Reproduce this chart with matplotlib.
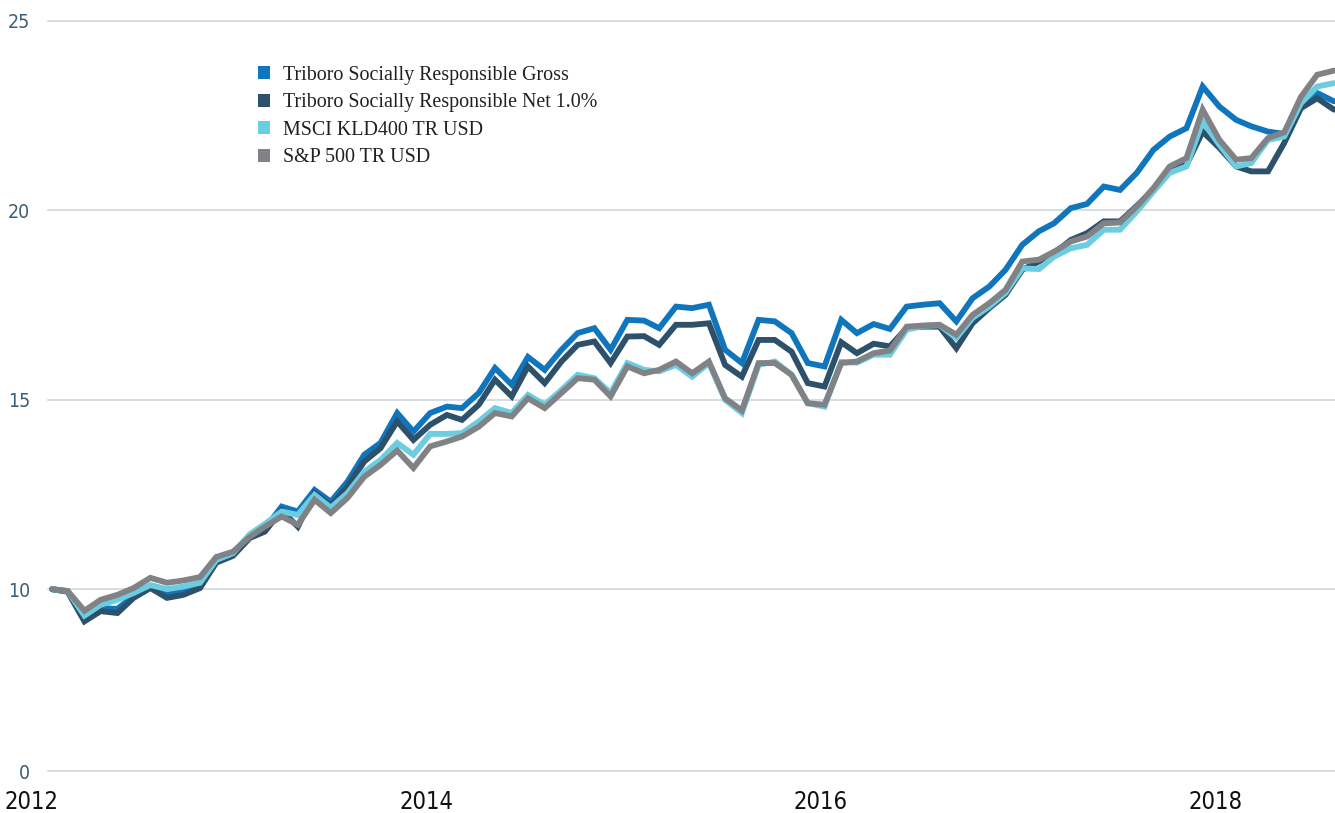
import numpy as np
import pandas as pd
import matplotlib
matplotlib.use("Agg")
import matplotlib.pyplot as plt
import matplotlib.dates as mdates
from matplotlib.patches import Patch

# monthly growth of 10 (first point Feb 2012, last Aug 2018)
dates = pd.date_range("2012-02-01", periods=79, freq="MS") + pd.Timedelta(days=7)

gross = [10.0, 9.95, 9.22, 9.5, 9.48, 9.82, 10.08, 9.88, 9.95, 10.1,
         10.75, 10.92, 11.4, 11.6, 12.18, 12.05, 12.62, 12.31, 12.84, 13.55,
         13.86, 14.65, 14.16, 14.65, 14.82, 14.78, 15.18, 15.84, 15.4, 16.13,
         15.79, 16.32, 16.76, 16.89, 16.32, 17.11, 17.09, 16.89, 17.46, 17.42,
         17.51, 16.32, 15.97, 17.11, 17.07, 16.76, 15.97, 15.88, 17.11, 16.76,
         17.0, 16.87, 17.46, 17.51, 17.55, 17.07, 17.68, 17.99, 18.43, 19.09,
         19.45, 19.66, 20.06, 20.17, 20.63, 20.54, 20.99, 21.6, 21.95, 22.17,
         23.27, 22.74, 22.39, 22.22, 22.08, 22.02, 22.83, 23.1, 22.88]

net = [10.0, 9.93, 9.15, 9.42, 9.37, 9.77, 10.03, 9.77, 9.85, 10.03,
       10.7, 10.88, 11.35, 11.52, 12.08, 11.65, 12.54, 12.2, 12.71, 13.37,
       13.72, 14.43, 13.94, 14.34, 14.6, 14.47, 14.87, 15.53, 15.09, 15.88,
       15.44, 16.01, 16.45, 16.54, 15.97, 16.67, 16.68, 16.45, 16.98, 16.98,
       17.02, 15.92, 15.61, 16.58, 16.58, 16.27, 15.44, 15.35, 16.52, 16.23,
       16.48, 16.41, 16.89, 16.93, 16.93, 16.36, 17.02, 17.42, 17.77, 18.43,
       18.65, 18.87, 19.22, 19.4, 19.71, 19.71, 20.12, 20.55, 21.12, 21.2,
       22.08, 21.65, 21.16, 21.03, 21.03, 21.78, 22.7, 22.96, 22.66]

msci = [10.0, 9.95, 9.3, 9.59, 9.72, 9.9, 10.11, 10.0, 10.07, 10.17,
        10.77, 10.95, 11.45, 11.72, 12.05, 11.96, 12.49, 12.15, 12.54, 13.1,
        13.41, 13.86, 13.55, 14.1, 14.1, 14.12, 14.43, 14.78, 14.65, 15.13,
        14.87, 15.26, 15.66, 15.57, 15.18, 15.97, 15.79, 15.75, 15.92, 15.61,
        15.97, 15.0, 14.65, 15.92, 16.01, 15.66, 14.91, 14.82, 16.0, 15.98,
        16.19, 16.19, 16.85, 16.95, 16.97, 16.63, 17.16, 17.46, 17.82, 18.47,
        18.45, 18.78, 19.0, 19.09, 19.49, 19.49, 19.97, 20.5, 20.99, 21.16,
        22.35, 21.73, 21.16, 21.25, 21.86, 21.95, 22.83, 23.27, 23.36]

sp500 = [10.0, 9.95, 9.43, 9.72, 9.85, 10.03, 10.3, 10.17, 10.23, 10.32,
         10.85, 10.99, 11.38, 11.65, 11.92, 11.7, 12.36, 12.01, 12.41, 12.97,
         13.28, 13.66, 13.2, 13.77, 13.9, 14.03, 14.29, 14.65, 14.56, 15.04,
         14.78, 15.18, 15.57, 15.53, 15.09, 15.88, 15.7, 15.79, 16.01, 15.7,
         16.01, 15.04, 14.72, 15.97, 15.97, 15.66, 14.91, 14.87, 15.97, 16.01,
         16.23, 16.3, 16.93, 16.96, 16.98, 16.72, 17.24, 17.55, 17.9, 18.65,
         18.7, 18.91, 19.18, 19.31, 19.66, 19.68, 20.1, 20.59, 21.16, 21.38,
         22.66, 21.86, 21.34, 21.38, 21.91, 22.06, 23.0, 23.58, 23.69]

labels = ["Triboro Socially Responsible Gross",
          "Triboro Socially Responsible Net 1.0%",
          "MSCI KLD400 TR USD",
          "S&P 500 TR USD"]
colors = ["#0f75bc", "#2d506b", "#6ccde0", "#808285"]

y_ticks = [5.2, 10, 15, 20, 25]
y_ticklabels = ["0", "10", "15", "20", "25"]

fig = plt.figure(figsize=(13.35, 8.13), dpi=100)
ax = fig.add_axes([31.5 / 1335, 42 / 813, 1303.5 / 1335, 750 / 813])

for i, (s, c) in enumerate(zip([gross, net, msci, sp500], colors)):
    ax.plot(dates, s, color=c, linewidth=4.2, solid_joinstyle="miter",
            solid_capstyle="round", zorder=3 + i)

for y in y_ticks:
    ax.axhline(y, xmin=0.0127, xmax=1, color="#d3dbe1", linewidth=1.3,
               zorder=1, clip_on=False)

ax.set_ylim(5.2, 25)
ax.set_xlim(pd.Timestamp("2012-01-01"), pd.Timestamp("2018-08-10"))
ax.set_yticks(y_ticks)
ax.set_yticklabels(y_ticklabels)
ax.xaxis.set_major_locator(mdates.YearLocator(2))
ax.xaxis.set_major_formatter(mdates.DateFormatter("%Y"))

for sp in ax.spines.values():
    sp.set_visible(False)

ax.tick_params(axis="both", length=0)
ax.tick_params(axis="y", pad=1, labelcolor="#3e5e74")
ax.tick_params(axis="x", pad=14, labelcolor="#111111")
for t in ax.get_yticklabels():
    t.set_fontfamily("DejaVu Sans")
    t.set_fontstretch("condensed")
    t.set_fontsize(14)
for t in ax.get_xticklabels():
    t.set_fontfamily("DejaVu Sans")
    t.set_fontstretch("condensed")
    t.set_fontsize(17)

handles = [Patch(facecolor=c, edgecolor="none") for c in colors]
leg = fig.legend(handles, labels, loc="upper left",
                 bbox_to_anchor=(258 / 1335, 1 - 66 / 813), frameon=False,
                 borderpad=0, borderaxespad=0, handlelength=0.62,
                 handleheight=0.62, handletextpad=0.62, labelspacing=0.42,
                 prop={"family": ["Liberation Serif", "DejaVu Serif"], "size": 14.4})
for t in leg.get_texts():
    t.set_color("#231f20")

fig.savefig("out.png", dpi=100)
